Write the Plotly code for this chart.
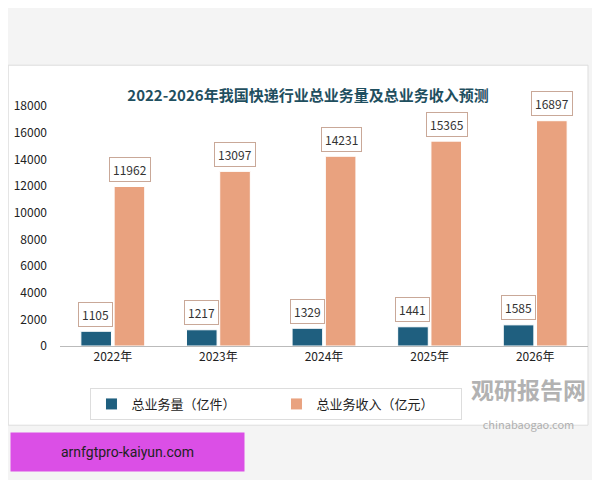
import plotly.graph_objects as go

years = ["2022年", "2023年", "2024年", "2025年", "2026年"]
volume = [1105, 1217, 1329, 1441, 1585]
revenue = [11962, 13097, 14231, 15365, 16897]
yticks = [0, 2000, 4000, 6000, 8000, 10000, 12000, 14000, 16000, 18000]

blue = "#1f5f7f"
orange = "#e9a27f"
font = "Noto Sans CJK SC"

fig = go.Figure()
fig.add_bar(x=years, y=volume, name="总业务量（亿件）", marker_color=blue,
            marker_line_color="white", marker_line_width=1)
fig.add_bar(x=years, y=revenue, name="总业务收入（亿元）", marker_color=orange,
            marker_line_color="white", marker_line_width=1)

for i, (v, r) in enumerate(zip(volume, revenue)):
    for val, shift in ((v, -17), (r, 17)):
        fig.add_annotation(x=years[i], y=val, xshift=shift, yshift=17, text=str(val),
                           showarrow=False, bgcolor="white", bordercolor="#c9a898",
                           borderwidth=1, borderpad=3,
                           font=dict(size=12, color="#333", family=font))

fig.add_shape(type="rect", xref="paper", yref="paper", x0=-0.098, x1=1.0, y0=-0.33, y1=1.17,
              line=dict(color="#dddddd", width=1), fillcolor="white", layer="below")
fig.add_annotation(xref="paper", yref="paper", x=1.0, y=-0.1, xanchor="right", yanchor="top",
                   text="<b>观研报告网</b><br><span style='font-size:11px'>chinabaogao.com</span>",
                   showarrow=False, font=dict(size=23, color="#a0a0a0", family=font), opacity=0.8)
fig.add_annotation(xref="paper", yref="paper", x=-0.095, y=-0.36, xanchor="left", yanchor="top",
                   text="arnfgtpro-kaiyun.com", showarrow=False, bgcolor="#db4fe6",
                   width=225, height=30, borderpad=4,
                   font=dict(size=14, color="#222", family="Roboto"))

fig.update_layout(
    width=600, height=480,
    margin=dict(l=52, r=20, t=98, b=142, autoexpand=False),
    paper_bgcolor="#f4f4f4", plot_bgcolor="#f0f0f0",
    barmode="group", bargap=0.37, bargroupgap=0.08,
    title=dict(text="<b>2022-2026年我国快递行业总业务量及总业务收入预测</b>", x=0.5, xanchor="center",
               y=0.818, yanchor="middle", font=dict(size=15, color="#1f4f5f", family=font)),
    font=dict(family=font, size=12, color="#222"),
    yaxis=dict(range=[0, 18000], tickvals=yticks, tickformat="d", showgrid=False, zeroline=False,
               ticks="", ticklabelstandoff=12),
    xaxis=dict(showline=True, linecolor="#bbbbbb", ticks=""),
    legend=dict(orientation="h", x=0.41, xanchor="center", y=-0.175, yanchor="top",
                bordercolor="#dddddd", borderwidth=1, bgcolor="white",
                font=dict(size=13), entrywidth=140),
    showlegend=True,
)
fig.write_html("out.html")
